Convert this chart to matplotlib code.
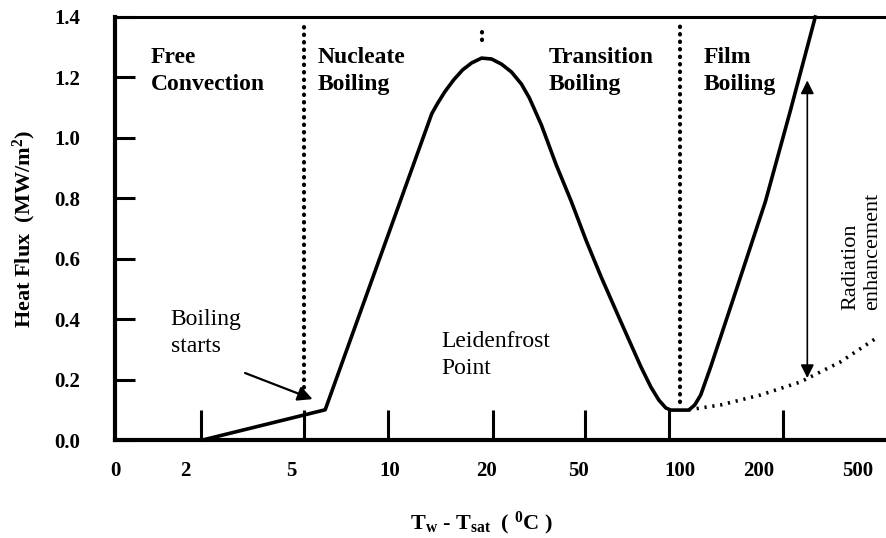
import numpy as np
import matplotlib.pyplot as plt

plt.rcParams['font.family'] = ['Liberation Serif', 'DejaVu Serif']
plt.rcParams['mathtext.fontset'] = 'custom'
plt.rcParams['mathtext.rm'] = 'Liberation Serif:bold'
plt.rcParams['mathtext.bf'] = 'Liberation Serif:bold'
plt.rcParams['mathtext.it'] = 'Liberation Serif:bold'

# x axis is a schematic position scale; labels and tick marks sit at fixed spots
tick_labels = ['0', '2', '5', '10', '20', '50', '100', '200', '500']
label_pos = [-0.03, 0.68, 1.74, 2.73, 3.70, 4.62, 5.64, 6.43, 7.43]
mark_pos = [0.83, 1.87, 2.71, 3.76, 4.69, 5.53, 6.68]

# boiling curve (MW/m2)
curve_pos = [0.85, 2.08, 3.15, 3.21, 3.28, 3.37, 3.46, 3.55, 3.65, 3.75, 3.85,
             3.95, 4.05, 4.13, 4.25, 4.40, 4.55, 4.70, 4.85, 5.05, 5.25, 5.35,
             5.43, 5.50, 5.55, 5.73, 5.79, 5.85, 5.95, 6.22, 6.50, 6.75, 7.00]
curve_flux = [0.0, 0.10, 1.08, 1.115, 1.152, 1.192, 1.225, 1.248, 1.264, 1.261,
              1.244, 1.218, 1.178, 1.132, 1.043, 0.91, 0.79, 0.66, 0.54, 0.39,
              0.242, 0.175, 0.132, 0.106, 0.099, 0.099, 0.116, 0.149, 0.242,
              0.51, 0.79, 1.09, 1.40]

# film boiling without radiation
rad_pos = [5.73, 6.05, 6.45, 6.85, 7.25, 7.63]
rad_flux = [0.10, 0.116, 0.149, 0.192, 0.258, 0.341]

# regime boundaries
onb_pos, onb_top, onb_bot = 1.87, 1.374, 0.15
chf_pos, chf_top, chf_bot = 3.65, 1.374, 1.324
mfb_pos, mfb_top, mfb_bot = 5.64, 1.374, 0.126

regimes = [('Free\nConvection', 0.33), ('Nucleate\nBoiling', 2.00),
           ('Transition\nBoiling', 4.32), ('Film\nBoiling', 5.88)]

fig = plt.figure(figsize=(8.86, 5.38), dpi=100)
ax = fig.add_axes([115/886, 98/538, 771/886, 423/538])

ax.plot(curve_pos, curve_flux, color='black', lw=2.6, solid_joinstyle='round',
        clip_on=False)
ax.plot(rad_pos, rad_flux, color='black', lw=2.6, ls=(0, (0.6, 1.6)))
for p, top, bot in [(onb_pos, onb_top, onb_bot), (chf_pos, chf_top, chf_bot),
                    (mfb_pos, mfb_top, mfb_bot)]:
    ax.plot([p, p], [bot, top], color='black', lw=3.0, ls=(0, (0.1, 1.7)),
            dash_capstyle='round')

for txt, x in regimes:
    ax.text(x, 1.30, txt, fontsize=17, fontweight='bold', va='top', ha='left',
            linespacing=1.35)

ax.text(0.53, 0.432, 'Boiling\nstarts', fontsize=17, va='top', ha='left',
        linespacing=1.35)
ax.annotate('', xy=(1.98, 0.132), xytext=(1.25, 0.225),
            arrowprops=dict(arrowstyle='-|>', color='black', lw=1.6,
                            mutation_scale=22))
ax.text(3.25, 0.36, 'Leidenfrost\nPoint', fontsize=17, va='top', ha='left',
        linespacing=1.35)

ax.annotate('', xy=(6.92, 1.19), xytext=(6.92, 0.205),
            arrowprops=dict(arrowstyle='<|-|>', color='black', lw=1.2,
                            mutation_scale=20, shrinkA=0, shrinkB=0))
ax.text(7.26, 0.43, 'Radiation\nenhancement', fontsize=16, rotation=90,
        ha='left', va='bottom', multialignment='left', linespacing=1.2)

ax.set_xlim(0, 7.71)
ax.set_ylim(0, 1.4)
ax.set_xticks(label_pos)
ax.set_xticklabels(tick_labels, fontsize=15, fontweight='bold')
ax.set_xticks(mark_pos, minor=True)
ax.tick_params(axis='x', which='major', length=0, pad=15)
ax.tick_params(axis='x', which='minor', direction='in', length=21.6, width=2.2)
ax.set_yticks(np.arange(0, 1.41, 0.2))
ax.set_yticklabels(['%.1f' % v for v in np.arange(0, 1.41, 0.2)],
                   fontsize=15, fontweight='bold')
ax.tick_params(axis='y', direction='in', length=14.5, width=2.2, pad=25)

ax.spines['right'].set_visible(False)
ax.spines['left'].set_linewidth(3)
ax.spines['bottom'].set_linewidth(3)
ax.spines['top'].set_linewidth(2.2)

ax.set_ylabel('Heat Flux  (MW/m$^\\mathrm{2}$)', fontsize=16, fontweight='bold',
              labelpad=12)
fig.text(481/886, 1 - 523/538,
         'T$_\\mathrm{w}$ - T$_\\mathrm{sat}$  ( $^\\mathrm{0}$C )',
         fontsize=16, fontweight='bold', ha='center', va='center')

fig.savefig('out.png', dpi=100)
